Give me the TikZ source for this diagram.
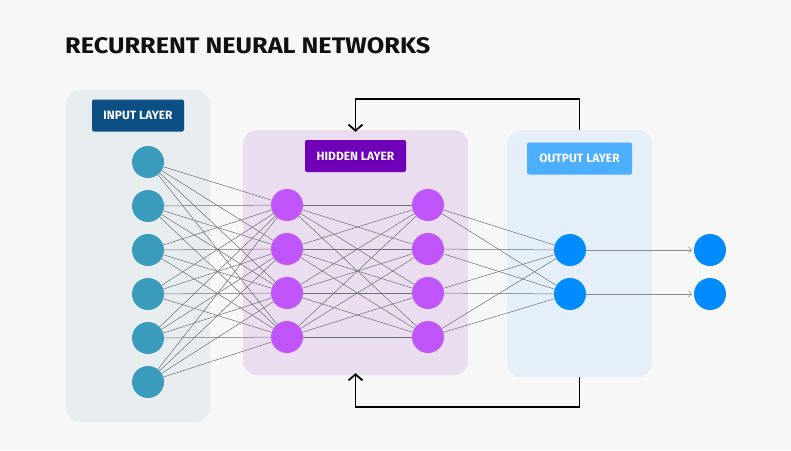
\documentclass[tikz,border=0pt]{standalone}
\usepackage{fontspec}
\setmainfont{Fira Sans}
\usetikzlibrary{arrows.meta}
\definecolor{bgc}{HTML}{F7F7F7}
\definecolor{inpanel}{HTML}{E7EDEF}
\definecolor{inlabel}{HTML}{0B4F85}
\definecolor{innode}{HTML}{3A9CBA}
\definecolor{hidpanelc}{HTML}{EADDF0}
\definecolor{hidlabel}{HTML}{6F00B8}
\definecolor{hidnode}{HTML}{BF55FA}
\definecolor{outpanelc}{HTML}{E4EFFA}
\definecolor{outlabel}{HTML}{4BAEFF}
\definecolor{outnode}{HTML}{008CFF}
\definecolor{edgec}{HTML}{6E6E6E}
\definecolor{titlec}{HTML}{111111}
\tikzset{
  panel/.style={rounded corners=14pt, inner sep=0pt},
  layerlabel/.style={rounded corners=2pt, text=white, font=\fontsize{12}{14}\selectfont\bfseries, minimum height=32pt, inner sep=0pt},
  neuron/.style={circle, inner sep=0pt, minimum size=32pt},
  edge/.style={draw=edgec, line width=0.5pt},
  loop/.style={draw=black, line width=1.8pt, -{Straight Barb[length=6pt,width=14pt,line width=1.8pt]}}
}
\begin{document}
\begin{tikzpicture}[x=1pt,y=-1pt]
\fill[bgc] (0,0) rectangle (791,450);
\useasboundingbox (0,0) rectangle (791,450);
\node[anchor=base west, text=titlec, font=\fontsize{22.5}{26}\selectfont\bfseries, inner sep=0pt, xscale=1.125, transform shape] (title) at (65,53) {RECURRENT NEURAL NETWORKS};
% panels
\node[panel, fill=inpanel, minimum width=144pt, minimum height=332pt] (inpanel) at (138,256) {};
\node[panel, fill=hidpanelc, minimum width=225pt, minimum height=245pt] (hidpanel) at (355.5,252.5) {};
\node[panel, fill=outpanelc, minimum width=145pt, minimum height=247pt] (outpanel) at (579.5,253.5) {};
% labels
\node[layerlabel, fill=inlabel, minimum width=92pt] (inlab) at (138,115.5) {INPUT LAYER};
\node[layerlabel, fill=hidlabel, minimum width=101pt] (hidlab) at (355.5,156) {HIDDEN LAYER};
\node[layerlabel, fill=outlabel, minimum width=105pt] (outlab) at (579.5,158.5) {OUTPUT LAYER};
% neurons
\foreach \i/\y in {1/162,2/206,3/250,4/294,5/338,6/382}
  \node[neuron, fill=innode] (i\i) at (148,\y) {};
\foreach \i/\y in {1/205,2/249,3/293,4/337}{
  \node[neuron, fill=hidnode] (a\i) at (287,\y) {};
  \node[neuron, fill=hidnode] (b\i) at (428,\y) {};
}
\foreach \i/\y in {1/250,2/294}{
  \node[neuron, fill=outnode] (o\i) at (570,\y) {};
  \node[neuron, fill=outnode] (f\i) at (710,\y) {};
}
% edges
\foreach \i in {1,...,6}
  \foreach \j in {1,...,4}
    \draw[edge] (i\i) -- (a\j);
\foreach \i in {1,...,4}
  \foreach \j in {1,...,4}
    \draw[edge] (a\i) -- (b\j);
\foreach \i in {1,...,4}
  \foreach \j in {1,2}
    \draw[edge] (b\i) -- (o\j);
\foreach \i in {1,2}
  \draw[edge, draw=edgec!80, -{Straight Barb[length=3pt,width=6pt]}, shorten >=2pt] (o\i) -- (f\i);
% recurrent loops
\draw[loop] (outpanel.north) -- ++(0,-31) -| ([yshift=-2pt]hidpanel.north);
\draw[loop] (outpanel.south) -- ++(0,30) -| ([yshift=2pt]hidpanel.south);
\end{tikzpicture}
\end{document}
